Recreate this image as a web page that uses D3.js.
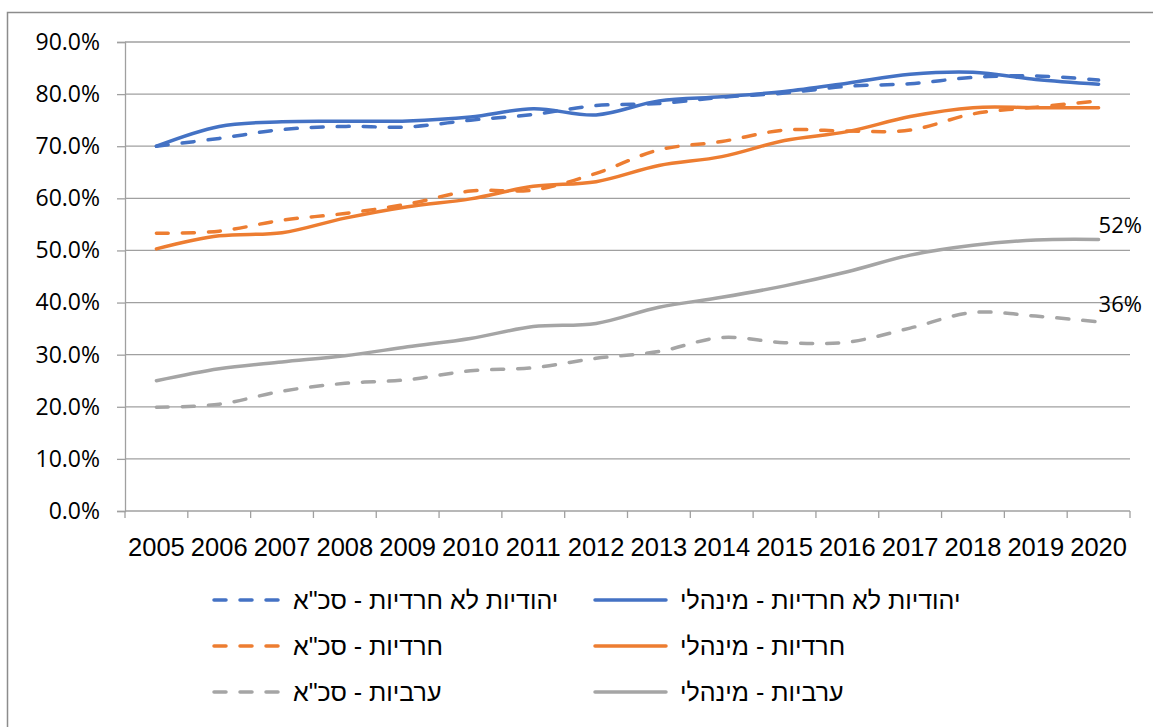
<!DOCTYPE html>
<html>
<head>
<meta charset="utf-8">
<script src="https://cdn.jsdelivr.net/npm/d3@7"></script>
<style>
  body { margin: 0; background: #fff; }
  svg { display: block; }
</style>
</head>
<body>
<svg id="chart" width="1153" height="727"></svg>
<script>
// categories
const years = ["2005","2006","2007","2008","2009","2010","2011","2012","2013","2014","2015","2016","2017","2018","2019","2020"];

// series values (percent)
const jewishNonHarediAdmin = [70.0, 73.8, 74.7, 74.8, 74.85, 75.6, 77.2, 76.0, 78.7, 79.5, 80.5, 82.1, 83.8, 84.2, 82.8, 81.9];
const jewishNonHarediTotal = [70.0, 71.5, 73.2, 73.8, 73.7, 75.0, 76.1, 77.8, 78.2, 79.4, 80.2, 81.5, 82.0, 83.2, 83.5, 82.7];
const harediAdmin = [50.3, 52.8, 53.4, 56.2, 58.4, 59.9, 62.3, 63.2, 66.3, 68.0, 71.1, 72.8, 75.7, 77.4, 77.4, 77.4];
const harediTotal = [53.3, 53.7, 55.8, 57.1, 58.9, 61.4, 61.6, 64.8, 69.3, 70.9, 73.1, 72.9, 73.1, 76.2, 77.5, 78.7];
const arabAdmin = [25.0, 27.3, 28.6, 29.8, 31.5, 33.1, 35.4, 36.0, 39.1, 41.0, 43.2, 45.9, 49.1, 51.0, 52.0, 52.1];
const arabTotal = [19.9, 20.5, 23.0, 24.5, 25.2, 26.9, 27.5, 29.3, 30.6, 33.3, 32.3, 32.4, 35.1, 38.1, 37.4, 36.3];

// y tick values
const yTicks = [0, 10, 20, 30, 40, 50, 60, 70, 80, 90];

// end labels
const endLabels = ["52%", "36%"];

const series = [
  { name: "יהודיות לא חרדיות - מינהלי", values: jewishNonHarediAdmin, color: "#4472C4", dashed: false },
  { name: "יהודיות לא חרדיות - סכ\"א", values: jewishNonHarediTotal, color: "#4472C4", dashed: true },
  { name: "חרדיות - מינהלי", values: harediAdmin, color: "#ED7D31", dashed: false },
  { name: "חרדיות - סכ\"א", values: harediTotal, color: "#ED7D31", dashed: true },
  { name: "ערביות - מינהלי", values: arabAdmin, color: "#A5A5A5", dashed: false },
  { name: "ערביות - סכ\"א", values: arabTotal, color: "#A5A5A5", dashed: true }
];

const svg = d3.select("#chart");
const plotLeft = 125, plotRight = 1130, plotTop = 42, plotBottom = 511;
const gridColor = "#a0a0a0";
const dash = "12,14";

// outer chart border
svg.append("rect")
  .attr("x", 7.5).attr("y", 12.5)
  .attr("width", 1160).attr("height", 740)
  .attr("fill", "#fff")
  .attr("stroke", "#8c8c8c")
  .attr("stroke-width", 1.5);

const x = d3.scaleBand().domain(years).range([plotLeft, plotRight]).padding(0);
const y = d3.scaleLinear().domain([0, 90]).range([plotBottom, plotTop]);

// gridlines
svg.append("g").selectAll("line")
  .data(yTicks.filter(d => d > 0))
  .enter().append("line")
  .attr("x1", plotLeft).attr("x2", plotRight)
  .attr("y1", d => y(d)).attr("y2", d => y(d))
  .attr("stroke", gridColor).attr("stroke-width", 1.3);

// y axis ticks/labels
const yAxis = svg.append("g")
  .attr("transform", "translate(" + plotLeft + ",0)")
  .call(d3.axisLeft(y).tickValues(yTicks).tickSize(8).tickPadding(17)
    .tickFormat(d => d.toFixed(1) + "%"));
yAxis.select(".domain").attr("stroke", gridColor).attr("stroke-width", 1.3);
yAxis.selectAll(".tick line").attr("stroke", gridColor).attr("stroke-width", 1.3);
yAxis.selectAll(".tick text")
  .attr("font-family", "'Open Sans', sans-serif")
  .attr("font-size", 23)
  .attr("fill", "#000");

// x axis: line, ticks between categories, labels
const xg = svg.append("g");
xg.append("line")
  .attr("x1", plotLeft).attr("x2", plotRight)
  .attr("y1", plotBottom).attr("y2", plotBottom)
  .attr("stroke", gridColor).attr("stroke-width", 1.3);
const edges = years.map(d => x(d)).concat([x.range()[1]]);
xg.selectAll("line.tk").data(edges).enter().append("line")
  .attr("class", "tk")
  .attr("x1", d => d).attr("x2", d => d)
  .attr("y1", plotBottom).attr("y2", plotBottom + 7)
  .attr("stroke", gridColor).attr("stroke-width", 1.3);
xg.selectAll("text").data(years).enter().append("text")
  .attr("x", d => x(d) + x.bandwidth() / 2)
  .attr("y", 556)
  .attr("text-anchor", "middle")
  .attr("font-family", "'Liberation Sans', Arial, sans-serif")
  .attr("font-size", 25.5)
  .attr("fill", "#000")
  .text(d => d);

// lines
const line = d3.line()
  .x((d, i) => x(years[i]) + x.bandwidth() / 2)
  .y(d => y(d))
  .curve(d3.curveCatmullRom.alpha(0.5));

svg.append("g").selectAll("path")
  .data(series)
  .enter().append("path")
  .attr("d", d => line(d.values))
  .attr("fill", "none")
  .attr("stroke", d => d.color)
  .attr("stroke-width", 3.5)
  .attr("stroke-linecap", "round")
  .attr("stroke-linejoin", "round")
  .attr("stroke-dasharray", d => d.dashed ? dash : null);

// end labels on the arab series
const lastYear = years[years.length - 1];
[arabAdmin, arabTotal].forEach((vals, i) => {
  svg.append("text")
    .attr("x", x(lastYear) + x.bandwidth() / 2)
    .attr("y", y(vals[vals.length - 1]) - (i === 0 ? 7 : 10))
    .attr("font-family", "'Open Sans', sans-serif")
    .attr("font-size", 22)
    .attr("fill", "#000")
    .text(endLabels[i]);
});

// legend: two columns, three rows
const legendRows = [600, 646, 692];
const leg = svg.append("g");
series.forEach((s, i) => {
  const row = legendRows[Math.floor(i / 2)];
  const col = i % 2 === 0 ? { x1: 595, x2: 666, tx: 680 } : { x1: 214, x2: 282, tx: 293 };
  leg.append("line")
    .attr("x1", col.x1).attr("x2", col.x2)
    .attr("y1", row).attr("y2", row)
    .attr("stroke", s.color)
    .attr("stroke-width", 3.5)
    .attr("stroke-linecap", "round")
    .attr("stroke-dasharray", s.dashed ? dash : null);
  leg.append("text")
    .attr("x", col.tx)
    .attr("y", row + 9)
    .attr("font-family", "'Liberation Sans', Arial, sans-serif")
    .attr("font-size", 25)
    .attr("fill", "#000")
    .text(s.name);
});
</script>
</body>
</html>
